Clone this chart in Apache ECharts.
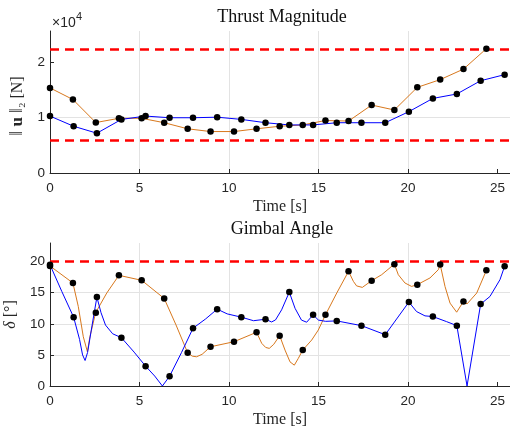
<!DOCTYPE html>
<html>
<head>
<meta charset="utf-8">
<script src="https://cdn.jsdelivr.net/npm/echarts@6/dist/echarts.min.js"></script>
<style>
  html, body { margin: 0; padding: 0; background: #fff; }
  #chart { width: 510px; height: 428px; }
</style>
</head>
<body>
<div id="chart"></div>
<script>
// tick values
const timeTicks = [0, 5, 10, 15, 20, 25];
const thrustTicks = [0, 10000, 20000];
const gimbalTicks = [0, 5, 10, 15, 20];

// limits (dashed red lines)
const thrustBounds = [6000, 22400];
const gimbalBound = [20];

// node times of the two trajectories
const blueTime = [0, 1.32, 2.62, 3.99, 5.34, 6.68, 7.99, 9.34, 10.69, 12.04, 13.37, 14.7, 16.02, 17.4, 18.73, 20.05, 21.39, 22.73, 24.06, 25.4];
const orangeTime = [0, 1.28, 2.56, 3.85, 5.12, 6.38, 7.69, 8.97, 10.28, 11.54, 12.83, 14.12, 15.39, 16.68, 17.97, 19.24, 20.52, 21.8, 23.1, 24.38];

// thrust magnitude at the nodes [N]
const blueThrust = [10300, 8460, 7200, 9700, 10300, 10000, 10000, 10100, 9700, 9100, 8700, 8700, 9100, 9100, 9100, 11100, 13500, 14300, 16700, 17800];
const orangeThrust = [15400, 13300, 9130, 9900, 9900, 9100, 8000, 7500, 7500, 8000, 8460, 8700, 9500, 9400, 12300, 11400, 15500, 16900, 18800, 22500];

// gimbal angle at the nodes [deg]
const blueGimbal = [19.5, 11.07, 14.3, 7.77, 3.19, 1.57, 9.29, 12.36, 11.07, 10.74, 15.1, 11.44, 10.47, 9.71, 8.25, 13.5, 11.17, 9.71, 13.17, 19.26];
const orangeGimbal = [19.3, 16.57, 11.8, 17.8, 17.0, 14.08, 5.34, 6.31, 7.12, 8.64, 8.1, 5.78, 11.44, 18.45, 16.94, 19.6, 16.3, 19.53, 13.6, 18.6];

// gimbal angle curves
const blueCurveT = [0, 0.66, 1.32, 1.65, 1.82, 1.96, 2.1, 2.4, 2.62, 2.85, 3.1, 3.5, 3.99, 4.7, 5.34, 5.85, 6.28, 6.68, 7.35, 7.99, 8.7, 9.34, 9.9, 10.69, 11.37, 12.04, 12.38, 12.6, 12.94, 13.37, 13.69, 14.05, 14.34, 14.7, 15.0, 15.4, 16.02, 17.4, 18.73, 20.05, 20.48, 20.95, 21.39, 22.15, 22.73, 23.3, 24.06, 24.58, 25.14, 25.4];
const blueCurveY = [19.5, 15.2, 11.07, 7.5, 5.0, 4.1, 5.4, 10.6, 14.3, 11.8, 9.8, 8.4, 7.77, 5.45, 3.19, 1.6, 0, 1.57, 5.4, 9.29, 10.8, 12.36, 11.6, 11.07, 10.5, 10.74, 10.3, 10.63, 12.25, 15.1, 12.5, 10.6, 10.26, 11.44, 10.6, 10.4, 10.47, 9.71, 8.25, 13.5, 11.97, 11.28, 11.17, 10.36, 9.71, 0, 13.17, 14.4, 17.1, 19.26];
const orangeCurveT = [0, 1.28, 1.58, 1.86, 2.09, 2.23, 2.55, 3.17, 3.85, 5.12, 6.38, 7.04, 7.69, 7.95, 8.19, 8.5, 8.97, 10.28, 11.54, 11.83, 12.05, 12.25, 12.5, 12.83, 13.13, 13.41, 13.65, 13.87, 14.12, 14.62, 14.99, 15.39, 16.02, 16.68, 16.95, 17.13, 17.45, 17.97, 18.53, 19.24, 19.46, 19.83, 20.2, 20.52, 21.23, 21.7, 21.8, 22.07, 22.35, 22.72, 23.1, 23.3, 23.84, 24.38];
const orangeCurveY = [19.3, 16.57, 12.8, 7.93, 5.5, 7.93, 11.8, 14.95, 17.8, 17.0, 14.08, 9.82, 5.34, 4.8, 4.7, 5.1, 6.31, 7.12, 8.64, 6.86, 6.2, 6.05, 6.7, 8.1, 5.78, 3.88, 3.35, 4.43, 5.78, 7.39, 9.0, 11.44, 14.95, 18.45, 16.83, 16.1, 15.86, 16.94, 17.9, 19.6, 17.9, 16.57, 16.02, 16.3, 17.38, 18.72, 19.53, 16.0, 13.33, 11.87, 13.6, 13.2, 14.95, 18.6];

const BLUE = '#0000ff';
const ORANGE = '#d8781d';
const AXIS = '#262626';
const SERIF = '"Liberation Serif", "DejaVu Serif", serif';
const SANS = '"Liberation Sans", Arial, sans-serif';

const zip = (xs, ys) => xs.map((x, i) => [x, ys[i]]);

const chart = echarts.init(document.getElementById('chart'), null, { renderer: 'canvas' });

function timeAxis(gridIndex) {
  return {
    type: 'value',
    gridIndex: gridIndex,
    min: 0,
    max: 25.7,
    interval: 5,
    name: 'Time [s]',
    nameLocation: 'middle',
    nameGap: 26,
    nameTextStyle: { fontFamily: SERIF, fontSize: 16, color: AXIS },
    axisLine: { show: true, onZero: false, lineStyle: { color: AXIS, width: 1 } },
    axisTick: { show: true, inside: true, length: 4, customValues: timeTicks, lineStyle: { color: AXIS } },
    axisLabel: { margin: 8, customValues: timeTicks, color: AXIS, fontFamily: SANS, fontSize: 13.5 },
    splitLine: { show: true, showMaxLine: false, lineStyle: { color: '#e3e3e3', width: 1 } }
  };
}

function valueAxis(gridIndex, max, ticks, name, gap, rich, fmt, pad) {
  return {
    type: 'value',
    gridIndex: gridIndex,
    min: 0,
    max: max,
    interval: ticks[1] - ticks[0],
    name: name,
    nameLocation: 'middle',
    nameRotate: 90,
    nameGap: gap,
    nameTextStyle: { fontFamily: SERIF, fontSize: 16, color: AXIS, rich: rich, padding: pad },
    axisLine: { show: true, onZero: false, lineStyle: { color: AXIS, width: 1 } },
    axisTick: { show: true, inside: true, length: 4, customValues: ticks, lineStyle: { color: AXIS } },
    axisLabel: { margin: 5, customValues: ticks, color: AXIS, fontFamily: SANS, fontSize: 13.5, formatter: fmt },
    splitLine: { show: true, showMaxLine: false, lineStyle: { color: '#e3e3e3', width: 1 } }
  };
}

function dashed(values) {
  return {
    silent: true,
    symbol: 'none',
    z: 1,
    label: { show: false },
    lineStyle: { color: '#ff0000', width: 2.5, type: [9, 6] },
    data: values.map(v => ({ yAxis: v }))
  };
}

function nodeLine(name, data, color, xi, mark) {
  return {
    name: name,
    type: 'line',
    xAxisIndex: xi,
    yAxisIndex: xi,
    data: data,
    z: 3,
    symbol: 'circle',
    symbolSize: 6.5,
    showSymbol: true,
    itemStyle: { color: '#000', opacity: 1 },
    lineStyle: { color: color, width: 1 },
    markLine: mark
  };
}

function curve(name, data, color, mark) {
  return {
    name: name,
    type: 'line',
    xAxisIndex: 1,
    yAxisIndex: 1,
    data: data,
    z: 2,
    symbol: 'none',
    lineStyle: { color: color, width: 1 },
    markLine: mark
  };
}

function dots(name, data) {
  return {
    name: name,
    type: 'scatter',
    xAxisIndex: 1,
    yAxisIndex: 1,
    data: data,
    z: 4,
    symbolSize: 6.5,
    itemStyle: { color: '#000', opacity: 1 }
  };
}

const option = {
  animation: false,
  backgroundColor: '#fff',
  grid: [
    { left: 50, top: 31, width: 460, height: 142, containLabel: false, outerBoundsMode: 'none' },
    { left: 50, top: 243, width: 460, height: 143, containLabel: false, outerBoundsMode: 'none' }
  ],
  xAxis: [timeAxis(0), timeAxis(1)],
  yAxis: [
    valueAxis(0, 25700, thrustTicks, '{n|‖} {b|u} {n|‖}₂ [N]', 21,
      {
        n: { fontFamily: SERIF, fontSize: 18, color: AXIS },
        b: { fontFamily: SERIF, fontSize: 17, fontWeight: 'bold', color: AXIS }
      },
      v => String(v / 10000), [0, 8, 0, 0]),
    valueAxis(1, 23, gimbalTicks, '{i|δ} [°]', 31,
      { i: { fontFamily: SERIF, fontSize: 16, fontStyle: 'italic', color: AXIS } },
      v => String(v), [0, 0, 0, 0])
  ],
  graphic: [
    { type: 'text', x: 282, y: 17, style: { text: 'Thrust Magnitude', font: '18px ' + SERIF, fill: '#111', align: 'center', verticalAlign: 'middle' } },
    { type: 'text', x: 282, y: 229, style: { text: 'Gimbal Angle', font: '18px ' + SERIF, fill: '#111', align: 'center', verticalAlign: 'middle' } },
    { type: 'text', x: 52, y: 23, style: { text: '×10', font: '14px ' + SANS, fill: AXIS, align: 'left', verticalAlign: 'middle' } },
    { type: 'text', x: 76, y: 17, style: { text: '4', font: '11px ' + SANS, fill: AXIS, align: 'left', verticalAlign: 'middle' } }
  ],
  series: [
    nodeLine('orange thrust', zip(orangeTime, orangeThrust), ORANGE, 0, dashed(thrustBounds)),
    nodeLine('blue thrust', zip(blueTime, blueThrust), BLUE, 0),
    curve('orange gimbal', zip(orangeCurveT, orangeCurveY), ORANGE, dashed(gimbalBound)),
    curve('blue gimbal', zip(blueCurveT, blueCurveY), BLUE),
    dots('orange gimbal nodes', zip(orangeTime, orangeGimbal)),
    dots('blue gimbal nodes', zip(blueTime, blueGimbal))
  ]
};

chart.setOption(option);
</script>
</body>
</html>
